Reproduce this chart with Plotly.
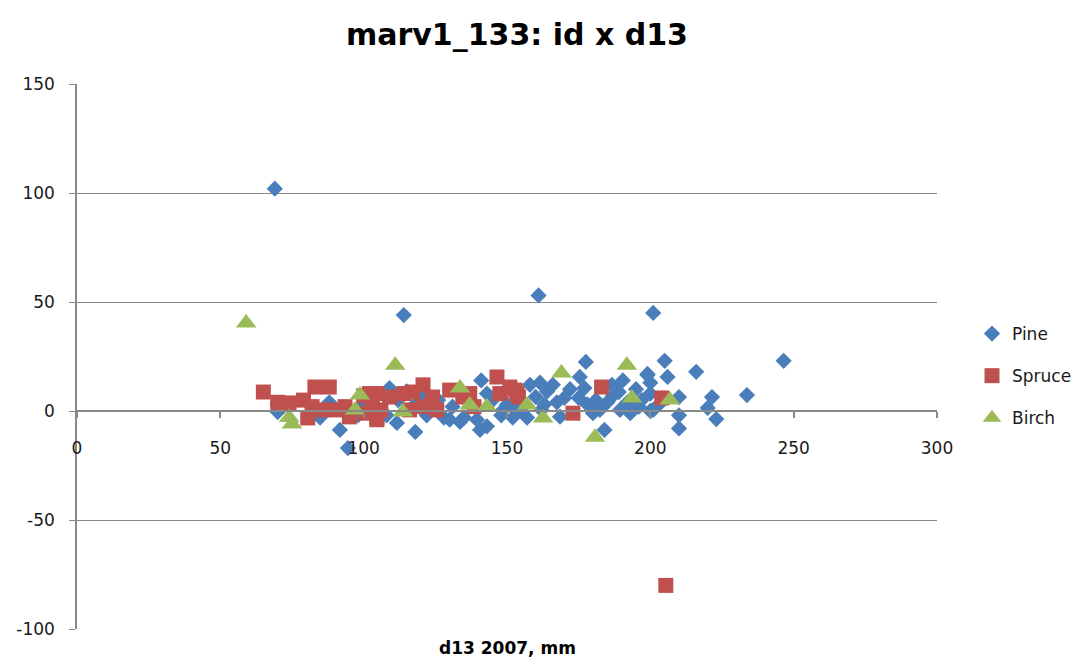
import plotly.graph_objects as go

# d13 2007 (mm) vs id per species
pine_x = [69, 114, 161, 201, 246.5, 205, 206, 216, 199, 200, 210, 210, 210, 221.5, 220, 223, 233.7, 200, 196,
          177.5, 158, 161.5, 164, 160, 157, 167.4, 168.5, 175.4, 177, 181, 182.4, 184, 186.6, 189, 190.4, 189.4,
          193, 199, 200, 201, 153.5, 162,
          141, 143, 139.5, 140.6, 143, 118, 111.6, 130, 109, 148.6, 153, 133.6,
          91.7, 94.5, 88, 84.8, 70, 70, 120,
          98, 100, 108, 112, 115, 118, 122, 126, 128, 131, 135, 138, 145, 148, 150, 152, 155, 163, 166,
          170, 172, 175, 178, 180, 185, 187, 192, 195, 197, 203]
pine_y = [102, 44, 53, 45, 23, 23, 15.6, 18, 17, 13, 6.4, -2, -8, 6.4, 1.4, -3.7, 7.3, 0, 2,
          22.5, 12, 13, 9, 6.5, -3, 4, -2.6, 15.6, 10.5, 5, 0.5, -8.7, 12, 8.7, 14, 0.5,
          -1, 16.5, 8, 0.5, 0.5, 0.5,
          14, 8, -4, -8.7, -7, -9.6, -5.5, -4, 10.5, 0.5, 0.5, -5,
          -8.7, -17, 4, -3, -0.5, 3, 7,
          -2, 3, -2, 5, 9, 3, -2, 5, -3, 2, -3, 3, 5, -2, 3, -3, 0, 3, 12,
          6, 10, 6, 3, -1, 4, 7, 4, 10, 5, 3]

spruce_x = [205.4, 65, 70, 74, 79, 83, 88, 82, 80.5, 86, 90.5, 93.5, 95, 100.5, 103, 102, 104.6, 100,
            104.6, 106, 109, 114, 117, 120.7, 120.7, 124, 125.5, 130, 134.6, 137, 138.5, 146.5, 147.5,
            151, 153.5, 116, 104.6, 152.8, 154, 183, 173, 204]
spruce_y = [-80, 8.7, 4, 3.7, 5, 11, 11, 2, -3.2, 0.5, 0.5, 2, -2.7, -1, 2.7, 8, -3.2, 7,
            8, 0.5, 6.4, 8, 8.7, 12, 2, 6.4, 0.5, 9.6, 6.4, 8, 2, 15.6, 8,
            11, 8, 0.5, -4, 9.6, 6.4, 11, -1, 6]

birch_x = [59, 74, 75, 98.7, 97, 111, 113.7, 133.6, 137, 143, 157, 162.6, 169, 180.7, 191.8, 193.6, 206.8]
birch_y = [40.4, -3, -6, 7.3, 0.5, 21, -0.5, 10.5, 2.7, 2, 2.7, -3.2, 17.4, -12, 21, 6, 5]

x_range = [0, 300]
y_range = [-100, 150]
x_ticks = [0, 50, 100, 150, 200, 250, 300]
y_ticks = [-100, -50, 0, 50, 100, 150]
y_tick_labels = ["-100", "-50", "0", "50", "100", "150"]

FONT = "DejaVu Sans"
AXIS_GRAY = "#898989"
TEXT = "#1a1a1a"
W, H = 1077, 659

fig = go.Figure()
fig.add_trace(go.Scatter(x=pine_x, y=pine_y, mode="markers", name="Pine", legendgroup="a",
                         marker=dict(symbol="diamond", size=12.5, color="#4A7EBB")))
fig.add_trace(go.Scatter(x=spruce_x, y=spruce_y, mode="markers", name="Spruce", legendgroup="b",
                         marker=dict(symbol="square", size=15, color="#C0504D")))
fig.add_trace(go.Scatter(x=birch_x, y=birch_y, mode="markers", name="Birch", legendgroup="c",
                         marker=dict(symbol="triangle-up", size=18, color="#9BBB59")))

# x axis crosses the y axis at y = 0
zero_pos = (0 - y_range[0]) / (y_range[1] - y_range[0])

fig.update_layout(
    width=W, height=H,
    margin=dict(l=77, r=140, t=84, b=30),
    paper_bgcolor="white", plot_bgcolor="white",
    font=dict(family=FONT, size=17, color=TEXT),
    title=dict(text="<b>marv1_133: id x d13</b>", x=517 / W, xref="container", xanchor="center",
               y=1 - 34 / H, yref="container", yanchor="middle",
               font=dict(family=FONT, size=30, color="#000")),
    xaxis=dict(range=x_range, tickvals=x_ticks, anchor="free", position=zero_pos,
               showgrid=False, zeroline=False, showline=True, linecolor=AXIS_GRAY, linewidth=1.5,
               ticks="outside", ticklen=6, tickcolor=AXIS_GRAY, tickwidth=1.5,
               ticklabelstandoff=16, tickfont=dict(size=17, color=TEXT)),
    yaxis=dict(range=y_range, tickvals=y_ticks, ticktext=y_tick_labels,
               showgrid=True, gridcolor=AXIS_GRAY, gridwidth=1.2,
               zeroline=False, showline=True, linecolor=AXIS_GRAY, linewidth=1.5,
               ticks="outside", ticklen=6, tickcolor=AXIS_GRAY, tickwidth=1.2,
               ticklabelstandoff=11, tickfont=dict(size=17, color=TEXT)),
    legend=dict(x=972 / W, xref="container", xanchor="left",
                y=1 - 316 / H, yref="container", yanchor="top",
                tracegroupgap=17, font=dict(size=17, color=TEXT), bgcolor="rgba(0,0,0,0)"),
    annotations=[dict(text="<b>d13 2007, mm</b>", x=0.5, y=0, xref="paper", yref="paper",
                      xanchor="center", yanchor="top", yshift=-7, showarrow=False,
                      font=dict(family=FONT, size=17, color="#000"))],
)

fig.write_html("out.html")
